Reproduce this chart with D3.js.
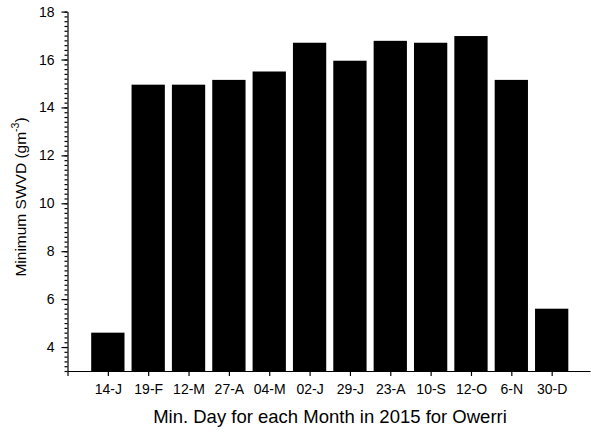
<!DOCTYPE html>
<html>
<head>
<meta charset="utf-8">
<script src="https://cdn.jsdelivr.net/npm/d3@7"></script>
<style>
  html, body { margin: 0; padding: 0; background: #fff; }
  svg { display: block; font-family: "Liberation Sans", Arial, sans-serif; }
</style>
</head>
<body>
<svg id="chart" width="591" height="432"></svg>
<script>
// Minimum surface water vapour density per month, Owerri 2015
const categories = ["14-J", "19-F", "12-M", "27-A", "04-M", "02-J", "29-J", "23-A", "10-S", "12-O", "6-N", "30-D"];
const values = [4.6, 14.95, 14.95, 15.15, 15.5, 16.7, 15.95, 16.78, 16.7, 16.98, 15.15, 5.6];
const yTicks = [4, 6, 8, 10, 12, 14, 16, 18];

const svg = d3.select("#chart");
const plotLeft = 67.5, plotBottom = 371, plotTop = 11.6, plotRight = 590;

const x = d3.scaleLinear().domain([0, 12.95]).range([plotLeft, plotRight]);
const y = d3.scaleLinear().domain([3, 18]).range([plotBottom, plotTop]);
const barW = x(0.825) - x(0);

// bars
svg.append("g").selectAll("rect")
  .data(values)
  .join("rect")
  .attr("x", (d, i) => x(i + 1) - barW / 2)
  .attr("y", d => y(d))
  .attr("width", barW)
  .attr("height", d => y(3) - y(d))
  .attr("fill", "#000");

// y axis: major ticks every 2, minor every 0.2
const minor = d3.range(3, 18.001, 0.2).map(v => +v.toFixed(1));
const yAxis = svg.append("g").attr("transform", `translate(${plotLeft},0)`);
yAxis.append("g")
  .call(d3.axisLeft(y).tickValues(minor).tickSize(3).tickFormat(""))
  .call(g => g.select(".domain").remove());
yAxis.append("g")
  .call(d3.axisLeft(y).tickValues(yTicks).tickSize(6).tickSizeOuter(0).tickPadding(7).tickFormat(d3.format("d")))
  .call(g => g.selectAll("text").attr("font-size", 14).attr("fill", "#000"));
yAxis.selectAll("line, path").attr("stroke", "#000").attr("stroke-width", 1.2);

// x axis
const xAxis = svg.append("g").attr("transform", `translate(0,${plotBottom})`);
xAxis.call(d3.axisBottom(x)
    .tickValues(d3.range(0, categories.length + 1))
    .tickSize(5).tickSizeOuter(0).tickPadding(8)
    .tickFormat(i => i === 0 ? "" : categories[i - 1]))
  .call(g => g.selectAll("text").attr("font-size", 14).attr("fill", "#000"));
xAxis.selectAll("line, path").attr("stroke", "#000").attr("stroke-width", 1.2);

// axis titles
svg.append("text")
  .attr("x", 330).attr("y", 423)
  .attr("text-anchor", "middle")
  .attr("font-size", 18.5)
  .text("Min. Day for each Month in 2015 for Owerri");

const yt = svg.append("text")
  .attr("transform", "translate(26,197) rotate(-90)")
  .attr("text-anchor", "middle")
  .attr("font-size", 15.5);
yt.append("tspan").text("Minimum SWVD (gm");
yt.append("tspan").attr("dy", -7).attr("font-size", 10.5).text("-3");
yt.append("tspan").attr("dy", 7).text(")");
</script>
</body>
</html>
